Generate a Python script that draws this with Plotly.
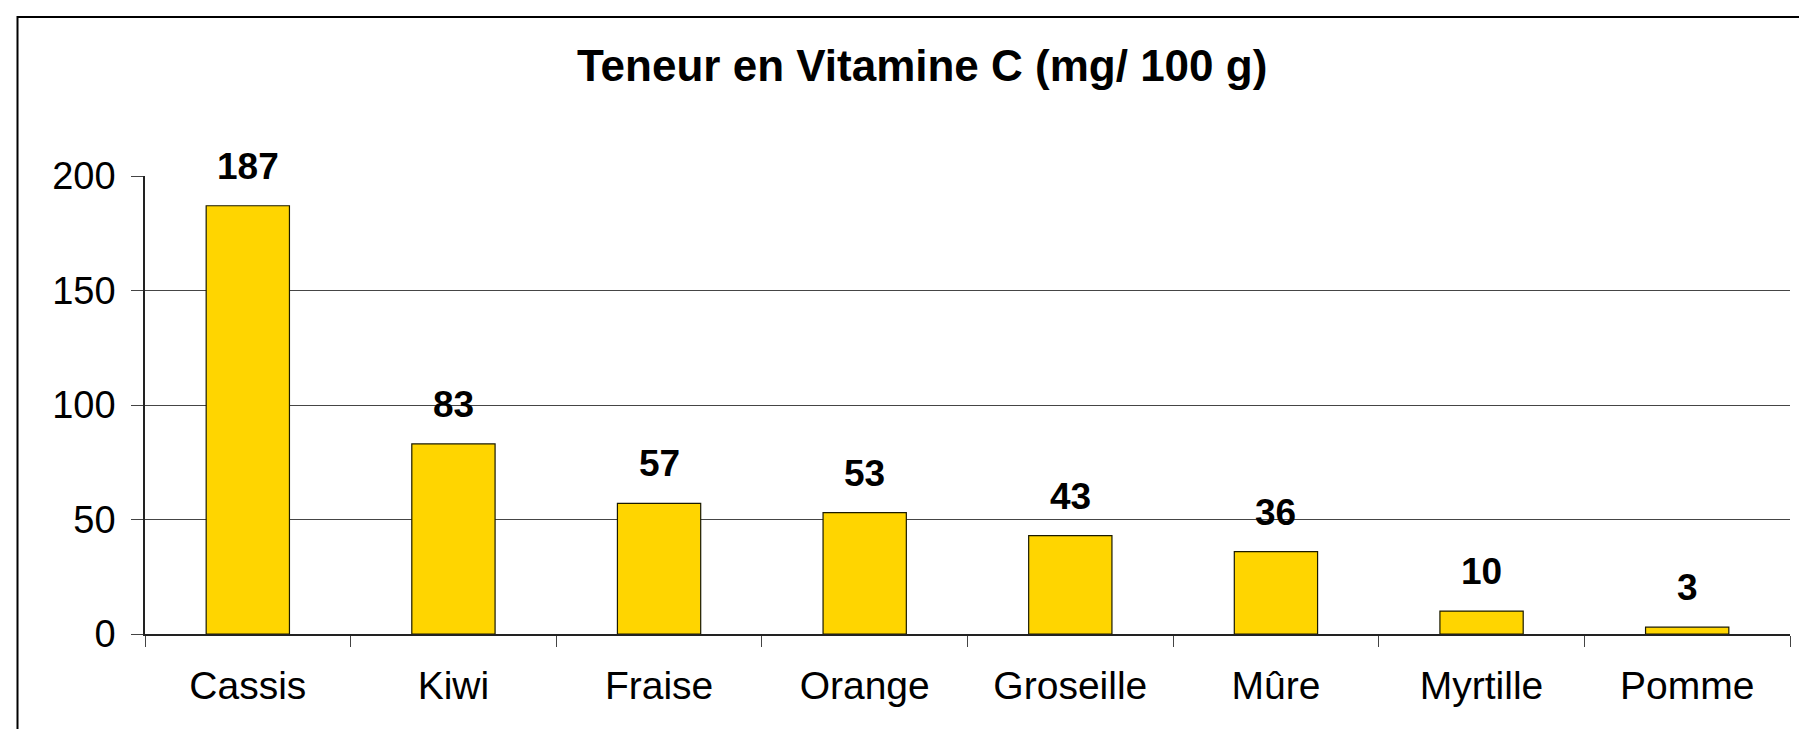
import plotly.graph_objects as go

categories = ["Cassis", "Kiwi", "Fraise", "Orange", "Groseille", "Mûre", "Myrtille", "Pomme"]
values = [187, 83, 57, 53, 43, 36, 10, 3]
y_ticks = [0, 50, 100, 150, 200]
title_text = "Teneur en Vitamine C (mg/ 100 g)"

W, H = 1807, 729
ML, MR, MT, MB = 137, 25, 168, 103
PW = W - ML - MR
PH = H - MT - MB

FONT = "Liberation Sans, Arial, sans-serif"

fig = go.Figure()
fig.add_trace(go.Bar(
    x=categories, y=values,
    marker=dict(color="#FFD500", line=dict(color="#1a1a00", width=1.2)),
    width=0.405,
    hoverinfo="x+y",
))

annotations = []
for c, v in zip(categories, values):
    annotations.append(dict(
        x=c, y=v, xref="x", yref="y", text=f"<b>{v}</b>", showarrow=False,
        yanchor="bottom", yshift=17,
        font=dict(family=FONT, size=37, color="black"),
    ))

annotations.append(dict(
    x=(914 - ML) / PW, y=(H - 57 - MB) / PH, xref="paper", yref="paper",
    text=f"<b>{title_text}</b>", showarrow=False, xanchor="center", yanchor="middle",
    font=dict(family=FONT, size=44, color="black"),
))

shapes = [dict(
    type="rect", xref="paper", yref="paper", layer="above",
    x0=(9.5 - ML) / PW, x1=(W + 10 - ML) / PW,
    y0=(-(20) - 0) / PH - MB / PH, y1=(H - 9 - MB) / PH,
    line=dict(color="black", width=2), fillcolor="rgba(0,0,0,0)",
)]

fig.update_layout(
    width=W, height=H,
    margin=dict(l=ML, r=MR, t=MT, b=MB),
    paper_bgcolor="white", plot_bgcolor="white",
    showlegend=False,
    annotations=annotations,
    shapes=shapes,
    font=dict(family=FONT, color="black"),
    bargap=0.6,
)
fig.update_xaxes(
    type="category", showgrid=False,
    showline=True, linecolor="#222", linewidth=1.5,
    ticks="outside", tickson="boundaries", ticklen=11, tickcolor="#444", tickwidth=1.2,
    tickfont=dict(family=FONT, size=39, color="black"),
    ticklabelstandoff=16,
)
fig.update_yaxes(
    range=[0, 200], tickvals=y_ticks,
    showgrid=True, gridcolor="#454545", gridwidth=1.3,
    showline=True, linecolor="#222", linewidth=1.5,
    ticks="outside", ticklen=12, tickcolor="#444", tickwidth=1.2,
    tickfont=dict(family=FONT, size=38, color="black"),
    ticklabelstandoff=8,
    zeroline=False,
)

fig.write_html("out.html")
